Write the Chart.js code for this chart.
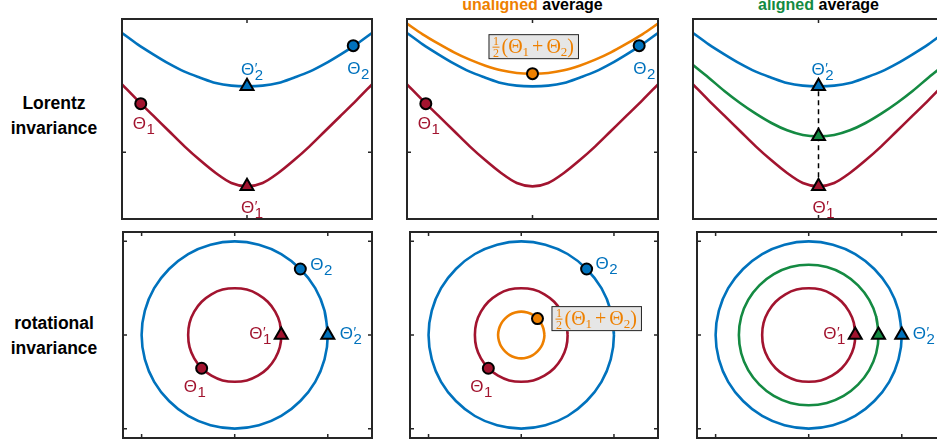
<!DOCTYPE html>
<html>
<head>
<meta charset="utf-8">
<script src="https://cdn.jsdelivr.net/npm/chart.js@4.4.1/dist/chart.umd.min.js"></script>
<style>
  html, body { margin: 0; padding: 0; overflow: hidden; background: #fff; }
  body { width: 937px; height: 442px; position: relative; }
  canvas { position: absolute; }
  .rowlab { position: absolute; left: 0; width: 108px; text-align: center; font: bold 17.5px "Liberation Sans", Arial, sans-serif; line-height: 25px; color: #000; }
  .title { position: absolute; font: bold 16px "Liberation Sans", Arial, sans-serif; line-height: 16px; white-space: nowrap; text-align: center; color: #000; }
</style>
</head>
<body>
<div class="rowlab" style="top:91px">Lorentz<br>invariance</div>
<div class="rowlab" style="top:311px">rotational<br>invariance</div>
<div class="title" style="left:407px;width:251px;top:-3px"><span style="color:#EE8000">unaligned</span> average</div>
<div class="title" style="left:693px;width:251px;top:-3px"><span style="color:#148A42">aligned</span> average</div>
<canvas id="lorentzRaw"></canvas>
<canvas id="lorentzUnaligned"></canvas>
<canvas id="lorentzAligned"></canvas>
<canvas id="rotRaw"></canvas>
<canvas id="rotUnaligned"></canvas>
<canvas id="rotAligned"></canvas>
<script>
// ---- data: top row (Lorentz), x = boost, y = energy-like ----
const lorentzX   = [-2, -1.75, -1.5, -1.25, -1, -0.75, -0.5, -0.25, 0, 0.25, 0.5, 0.75, 1, 1.25, 1.5, 1.75, 2];
const hypRed     = [2.02, 1.78, 1.55, 1.32, 1.09, 0.88, 0.69, 0.54, 0.49, 0.54, 0.69, 0.88, 1.09, 1.32, 1.55, 1.78, 2.02];
const hypBlue    = [2.79, 2.62, 2.47, 2.33, 2.21, 2.12, 2.04, 2.00, 1.99, 2.00, 2.04, 2.12, 2.21, 2.33, 2.47, 2.62, 2.79];
const hypOrange  = [2.93, 2.77, 2.63, 2.50, 2.39, 2.30, 2.23, 2.19, 2.18, 2.19, 2.23, 2.30, 2.39, 2.50, 2.63, 2.77, 2.93];
const hypGreen   = [2.31, 2.12, 1.92, 1.74, 1.58, 1.44, 1.33, 1.26, 1.24, 1.26, 1.33, 1.44, 1.58, 1.74, 1.92, 2.12, 2.31];
const lorentzTicksX = [-2, 0, 2];
const lorentzTicksY = [0, 1, 3];

const theta1L = [-1.7, 1.73];
const theta2L = [1.7, 2.60];
const prime1L = [0, 0.49];
const prime2L = [0, 1.99];
const unalignedL = [0, 2.18];
const alignedL = [0, 1.24];

// ---- data: bottom row (rotation), points read around each ring ----
const ring2X  = [2, 1.93, 1.73, 1.41, 1, 0.52, 0, -0.52, -1, -1.41, -1.73, -1.93, -2, -1.93, -1.73, -1.41, -1, -0.52, 0, 0.52, 1, 1.41, 1.73, 1.93];
const ring2Y  = [0, 0.52, 1, 1.41, 1.73, 1.93, 2, 1.93, 1.73, 1.41, 1, 0.52, 0, -0.52, -1, -1.41, -1.73, -1.93, -2, -1.93, -1.73, -1.41, -1, -0.52];
const ring15X = [1.5, 1.45, 1.3, 1.06, 0.75, 0.39, 0, -0.39, -0.75, -1.06, -1.3, -1.45, -1.5, -1.45, -1.3, -1.06, -0.75, -0.39, 0, 0.39, 0.75, 1.06, 1.3, 1.45];
const ring15Y = [0, 0.39, 0.75, 1.06, 1.3, 1.45, 1.5, 1.45, 1.3, 1.06, 0.75, 0.39, 0, -0.39, -0.75, -1.06, -1.3, -1.45, -1.5, -1.45, -1.3, -1.06, -0.75, -0.39];
const ring1X  = [1, 0.97, 0.87, 0.71, 0.5, 0.26, 0, -0.26, -0.5, -0.71, -0.87, -0.97, -1, -0.97, -0.87, -0.71, -0.5, -0.26, 0, 0.26, 0.5, 0.71, 0.87, 0.97];
const ring1Y  = [0, 0.26, 0.5, 0.71, 0.87, 0.97, 1, 0.97, 0.87, 0.71, 0.5, 0.26, 0, -0.26, -0.5, -0.71, -0.87, -0.97, -1, -0.97, -0.87, -0.71, -0.5, -0.26];
const ring05X = [0.5, 0.48, 0.43, 0.35, 0.25, 0.13, 0, -0.13, -0.25, -0.35, -0.43, -0.48, -0.5, -0.48, -0.43, -0.35, -0.25, -0.13, 0, 0.13, 0.25, 0.35, 0.43, 0.48];
const ring05Y = [0, 0.13, 0.25, 0.35, 0.43, 0.48, 0.5, 0.48, 0.43, 0.35, 0.25, 0.13, 0, -0.13, -0.25, -0.35, -0.43, -0.48, -0.5, -0.48, -0.43, -0.35, -0.25, -0.13];
const rotTicks = [-2, 0, 2];

const theta1R = [-0.71, -0.71];
const theta2R = [1.41, 1.41];
const prime1R = [1, 0];
const prime2R = [2, 0];
const unalignedR = [0.35, 0.35];
const alignedR = [1.5, 0];

// colours
const BLUE = '#0072BD', RED = '#A2142F', ORANGE = '#EE8000', GREEN = '#148A42', AXIS = '#262626';

// helpers
function pts(xs, ys) { return xs.map((x, i) => ({ x: x, y: ys[i] })); }
function ring(xs, ys) { const p = pts(xs, ys); return p.concat([p[0], p[1]]); } // close the loop

function curve(data, color, round) {
  return {
    data: data, borderColor: color, borderWidth: 2.6, pointRadius: 0, showLine: true, fill: false,
    tension: round ? 0.34 : 0, cubicInterpolationMode: round ? 'default' : 'monotone', order: 5
  };
}
function marker(p, color, style) {
  return {
    data: [{ x: p[0], y: p[1] }], pointStyle: style, pointRadius: style === 'triangle' ? 7.5 : 5.5,
    pointBackgroundColor: color, pointBorderColor: '#000', pointBorderWidth: 2, showLine: false, order: 1
  };
}

function drawTheta(ctx, x, y, sub, prime, color) {
  ctx.fillStyle = color;
  ctx.textAlign = 'left';
  ctx.textBaseline = 'alphabetic';
  ctx.font = '17px "Liberation Sans", Arial, sans-serif';
  ctx.fillText('\u0398', x, y);
  const w = ctx.measureText('\u0398').width;
  if (prime) {
    ctx.font = '14px "Liberation Sans", "DejaVu Sans", sans-serif';
    ctx.fillText('\u2032', x + w + 0.5, y - 2);
  }
  ctx.font = '15px "Liberation Sans", Arial, sans-serif';
  ctx.fillText(sub, x + w + 0.5, y + 5);
}

function drawAvgBox(ctx, left, cy) {
  const main = '20px "Liberation Serif", "DejaVu Serif", serif';
  const small = '13px "Liberation Serif", "DejaVu Serif", serif';
  const frac = '12px "Liberation Serif", "DejaVu Serif", serif';
  const runs = [
    { t: '(', f: main, dy: 0, gap: 0 },
    { t: '\u0398', f: main, dy: 0, gap: 0 },
    { t: '1', f: small, dy: 3, gap: 0 },
    { t: '+', f: main, dy: 0, gap: 3 },
    { t: '\u0398', f: main, dy: 0, gap: 3 },
    { t: '2', f: small, dy: 3, gap: 0 },
    { t: ')', f: main, dy: 0, gap: 0 }
  ];
  const fracW = 7, pad = 4;
  let w = fracW + 2;
  runs.forEach(r => { ctx.font = r.f; r.w = ctx.measureText(r.t).width; w += r.gap + r.w; });
  const h = 25, boxW = w + pad * 2 + 1;
  ctx.save();
  ctx.fillStyle = '#E6E6E6';
  ctx.fillRect(left, cy - h / 2, boxW, h);
  ctx.strokeStyle = AXIS;
  ctx.lineWidth = 1;
  ctx.strokeRect(left + 0.5, cy - h / 2 + 0.5, boxW - 1, h - 1);
  ctx.fillStyle = ORANGE;
  ctx.strokeStyle = ORANGE;
  ctx.textBaseline = 'alphabetic';
  ctx.textAlign = 'center';
  let x = left + pad;
  ctx.font = frac;
  ctx.fillText('1', x + fracW / 2, cy - 1.5);
  ctx.fillText('2', x + fracW / 2, cy + 10.5);
  ctx.beginPath();
  ctx.moveTo(x, cy + 0.5); ctx.lineTo(x + fracW, cy + 0.5);
  ctx.stroke();
  x += fracW + 2;
  ctx.textAlign = 'left';
  runs.forEach(r => {
    x += r.gap;
    ctx.font = r.f;
    ctx.fillText(r.t, x, cy + 6 + r.dy);
    x += r.w;
  });
  ctx.restore();
}

// frame with inward ticks on all four sides, then text annotations
const framePlugin = {
  id: 'frame',
  afterDatasetsDraw(chart, args, opts) {
    const ctx = chart.ctx, a = chart.chartArea, sx = chart.scales.x, sy = chart.scales.y;
    ctx.save();
    ctx.strokeStyle = AXIS;
    ctx.lineWidth = 1.5;
    ctx.beginPath();
    opts.ticksX.forEach(v => {
      const px = sx.getPixelForValue(v);
      ctx.moveTo(px, a.top); ctx.lineTo(px, a.top + 4);
      ctx.moveTo(px, a.bottom); ctx.lineTo(px, a.bottom - 4);
    });
    opts.ticksY.forEach(v => {
      const py = sy.getPixelForValue(v);
      ctx.moveTo(a.left, py); ctx.lineTo(a.left + 4, py);
      ctx.moveTo(a.right, py); ctx.lineTo(a.right - 4, py);
    });
    ctx.stroke();
    ctx.lineWidth = 2;
    ctx.strokeRect(a.left, a.top, a.right - a.left, a.bottom - a.top);
    (opts.labels || []).forEach(l => {
      drawTheta(ctx, sx.getPixelForValue(l.at[0]) + l.dx, sy.getPixelForValue(l.at[1]) + l.dy, l.sub, l.prime, l.color);
    });
    (opts.boxes || []).forEach(b => {
      drawAvgBox(ctx, sx.getPixelForValue(b.at[0]) + b.dx, sy.getPixelForValue(b.at[1]) + b.dy);
    });
    ctx.restore();
  }
};

const PAD = 20;
function panel(id, box, xr, yr, ticksX, ticksY, datasets, labels, boxes) {
  const cv = document.getElementById(id);
  cv.width = box.w + 2 * PAD;
  cv.height = box.h + 2 * PAD;
  cv.style.left = (box.left - PAD) + 'px';
  cv.style.top = (box.top - PAD) + 'px';
  return new Chart(cv, {
    type: 'scatter',
    data: { datasets: datasets },
    options: {
      responsive: false,
      animation: false,
      devicePixelRatio: 1,
      layout: { padding: PAD },
      scales: {
        x: { type: 'linear', min: xr[0], max: xr[1], display: false },
        y: { type: 'linear', min: yr[0], max: yr[1], display: false }
      },
      plugins: {
        legend: { display: false },
        tooltip: { enabled: false },
        frame: { ticksX: ticksX, ticksY: ticksY, labels: labels, boxes: boxes }
      }
    },
    plugins: [framePlugin]
  });
}

const LX = [-2, 2], LY = [0, 3];
const RX = [-2.4, 2.95], RY = [-2.2, 2.2];

// Lorentz, raw
panel('lorentzRaw', { left: 122, top: 19, w: 250, h: 200 }, LX, LY, lorentzTicksX, lorentzTicksY, [
  marker(theta1L, RED, 'circle'),
  marker(theta2L, BLUE, 'circle'),
  marker(prime1L, RED, 'triangle'),
  marker(prime2L, BLUE, 'triangle'),
  curve(pts(lorentzX, hypBlue), BLUE),
  curve(pts(lorentzX, hypRed), RED)
], [
  { at: prime2L, dx: -6, dy: -11, sub: '2', prime: true, color: BLUE },
  { at: theta2L, dx: -6, dy: 28, sub: '2', prime: false, color: BLUE },
  { at: theta1L, dx: -8, dy: 25, sub: '1', prime: false, color: RED },
  { at: prime1L, dx: -6, dy: 27, sub: '1', prime: true, color: RED }
], []);

// Lorentz, unaligned average
panel('lorentzUnaligned', { left: 407, top: 19, w: 251, h: 200 }, LX, LY, lorentzTicksX, lorentzTicksY, [
  marker(theta1L, RED, 'circle'),
  marker(theta2L, BLUE, 'circle'),
  marker(unalignedL, ORANGE, 'circle'),
  curve(pts(lorentzX, hypOrange), ORANGE),
  curve(pts(lorentzX, hypBlue), BLUE),
  curve(pts(lorentzX, hypRed), RED)
], [
  { at: theta2L, dx: -6, dy: 28, sub: '2', prime: false, color: BLUE },
  { at: theta1L, dx: -8, dy: 25, sub: '1', prime: false, color: RED }
], [
  { at: unalignedL, dx: -44, dy: -27 }
]);

// Lorentz, aligned average
panel('lorentzAligned', { left: 693, top: 19, w: 251, h: 200 }, LX, LY, lorentzTicksX, lorentzTicksY, [
  marker(prime1L, RED, 'triangle'),
  marker(alignedL, GREEN, 'triangle'),
  marker(prime2L, BLUE, 'triangle'),
  { data: pts([prime1L[0], prime2L[0]], [prime1L[1], prime2L[1]]), borderColor: '#000', borderWidth: 1.5,
    borderDash: [5, 4], showLine: true, pointRadius: 0, order: 3 },
  curve(pts(lorentzX, hypBlue), BLUE),
  curve(pts(lorentzX, hypGreen), GREEN),
  curve(pts(lorentzX, hypRed), RED)
], [
  { at: prime2L, dx: -7, dy: -11, sub: '2', prime: true, color: BLUE },
  { at: prime1L, dx: -6, dy: 27, sub: '1', prime: true, color: RED }
], []);

// rotation, raw
panel('rotRaw', { left: 123, top: 232, w: 249, h: 206 }, RX, RY, rotTicks, rotTicks, [
  marker(theta1R, RED, 'circle'),
  marker(theta2R, BLUE, 'circle'),
  marker(prime1R, RED, 'triangle'),
  marker(prime2R, BLUE, 'triangle'),
  curve(ring(ring2X, ring2Y), BLUE, true),
  curve(ring(ring1X, ring1Y), RED, true)
], [
  { at: theta2R, dx: 10, dy: 1, sub: '2', prime: false, color: BLUE },
  { at: theta1R, dx: -18, dy: 24, sub: '1', prime: false, color: RED },
  { at: prime1R, dx: -32, dy: 4, sub: '1', prime: true, color: RED },
  { at: prime2R, dx: 12, dy: 4, sub: '2', prime: true, color: BLUE }
], []);

// rotation, unaligned average
panel('rotUnaligned', { left: 410, top: 232, w: 248, h: 206 }, RX, RY, rotTicks, rotTicks, [
  marker(theta1R, RED, 'circle'),
  marker(theta2R, BLUE, 'circle'),
  marker(unalignedR, ORANGE, 'circle'),
  curve(ring(ring2X, ring2Y), BLUE, true),
  curve(ring(ring1X, ring1Y), RED, true),
  curve(ring(ring05X, ring05Y), ORANGE, true)
], [
  { at: theta2R, dx: 9, dy: 0, sub: '2', prime: false, color: BLUE },
  { at: theta1R, dx: -18, dy: 24, sub: '1', prime: false, color: RED }
], [
  { at: unalignedR, dx: 14, dy: 0 }
]);

// rotation, aligned average
panel('rotAligned', { left: 697, top: 232, w: 249, h: 206 }, RX, RY, rotTicks, rotTicks, [
  marker(prime1R, RED, 'triangle'),
  marker(alignedR, GREEN, 'triangle'),
  marker(prime2R, BLUE, 'triangle'),
  curve(ring(ring2X, ring2Y), BLUE, true),
  curve(ring(ring15X, ring15Y), GREEN, true),
  curve(ring(ring1X, ring1Y), RED, true)
], [
  { at: prime1R, dx: -32, dy: 4, sub: '1', prime: true, color: RED },
  { at: prime2R, dx: 11, dy: 4, sub: '2', prime: true, color: BLUE }
], []);
</script>
</body>
</html>
